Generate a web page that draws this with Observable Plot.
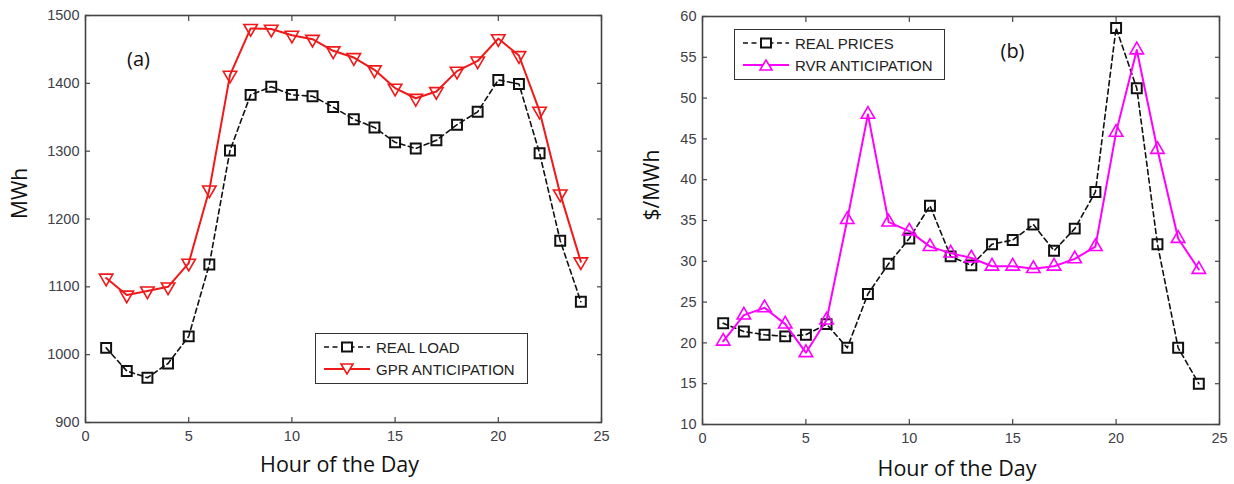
<!DOCTYPE html>
<html>
<head>
<meta charset="utf-8">
<script src="https://cdn.jsdelivr.net/npm/d3@7"></script>
<script src="https://cdn.jsdelivr.net/npm/@observablehq/plot@0.6"></script>
<style>
  html, body { margin: 0; padding: 0; background: #fff; }
  #wrap { position: relative; width: 1234px; height: 484px; overflow: hidden; }
  #wrap svg.plot { position: absolute; top: 0; }
  .legend { position: absolute; background: #fff; border: 1.5px solid #333; box-sizing: border-box;
            font-family: "Liberation Sans", Arial, sans-serif; font-size: 15px; color: #222; }
  .legend .row { position: absolute; left: 0; height: 20px; display: flex; align-items: center; white-space: nowrap; }
  .legend .row svg { display: block; margin-left: 8px; margin-right: 6px; }
</style>
</head>
<body>
<div id="wrap"></div>
<script>
// ---- data ----
const hours = [1,2,3,4,5,6,7,8,9,10,11,12,13,14,15,16,17,18,19,20,21,22,23,24];
const realLoad = [1010,976,966,987,1027,1133,1301,1383,1395,1383,1381,1365,1347,1335,1313,1304,1316,1339,1358,1405,1399,1297,1168,1078];
const gprAnticipation = [1113,1088,1094,1100,1135,1243,1412,1481,1480,1471,1465,1448,1438,1420,1393,1378,1388,1418,1433,1466,1441,1359,1237,1137];
const realPrices = [22.4,21.4,21.0,20.8,21.0,22.3,19.4,26.0,29.7,32.8,36.8,30.6,29.5,32.1,32.6,34.5,31.3,34.0,38.5,58.6,51.2,32.1,19.4,15.0];
const rvrAnticipation = [20.2,23.4,24.3,22.3,18.8,22.8,35.1,48.0,34.8,33.7,31.8,31.0,30.4,29.4,29.4,29.1,29.4,30.3,31.8,45.8,55.9,43.7,32.8,29.0];
const xTicks = [0,5,10,15,20,25];
const yTicksA = [900,1000,1100,1200,1300,1400,1500];
const yTicksB = [10,15,20,25,30,35,40,45,50,55,60];
const xLabel = "Hour of the Day";
const yLabelA = "MWh";
const yLabelB = "$/MWh";

const loadRows = hours.map((h, i) => ({h, real: realLoad[i], gpr: gprAnticipation[i]}));
const priceRows = hours.map((h, i) => ({h, real: realPrices[i], rvr: rvrAnticipation[i]}));

const tickFont = {fontSize: 14.5, fontFamily: "Liberation Sans, Arial, sans-serif", fill: "#404048"};
const frameColor = "#444";
const plain = d => String(d);

function axes(yTicks) {
  return [
    Plot.axisX({ticks: xTicks, tickSize: -5, tickPadding: 13, tickFormat: plain, label: null, stroke: frameColor, strokeWidth: 1.2, ...tickFont}),
    Plot.axisX({anchor: "top", ticks: xTicks, tickSize: -5, tickFormat: () => "", label: null, stroke: frameColor, strokeWidth: 1.2}),
    Plot.axisY({ticks: yTicks, tickSize: -5, tickPadding: 11, tickFormat: plain, label: null, stroke: frameColor, strokeWidth: 1.2, ...tickFont}),
    Plot.axisY({anchor: "right", ticks: yTicks, tickSize: -5, tickFormat: () => "", label: null, stroke: frameColor, strokeWidth: 1.2}),
    Plot.frame({stroke: frameColor, strokeWidth: 1.6})
  ];
}

const labelFont = "Open Sans, sans-serif";

const plotA = Plot.plot({
  width: 617, height: 484,
  marginLeft: 85, marginRight: 16, marginTop: 15, marginBottom: 62,
  x: {domain: [0, 25]},
  y: {domain: [900, 1500]},
  style: {background: "transparent", overflow: "visible"},
  marks: [
    ...axes(yTicksA),
    Plot.line(loadRows, {x: "h", y: "real", stroke: "#111", strokeWidth: 1.6, strokeDasharray: "5,3.5"}),
    Plot.dot(loadRows, {x: "h", y: "real", symbol: "square", r: 5.6, stroke: "#111", strokeWidth: 2, fill: "none"}),
    Plot.line(loadRows, {x: "h", y: "gpr", stroke: "#f01818", strokeWidth: 2}),
    Plot.dot(loadRows, {x: "h", y: "gpr", symbol: "triangle", rotate: 180, r: 5, stroke: "#f01818", strokeWidth: 1.6, fill: "none"}),
    Plot.text([xLabel], {frameAnchor: "bottom", dx: -4, dy: 49, fontSize: 21.5, fontFamily: labelFont, fill: "#111"}),
    Plot.text([yLabelA], {frameAnchor: "left", dx: -65, rotate: -90, fontSize: 21, fontFamily: labelFont, fill: "#111"}),
    Plot.text(["(a)"], {frameAnchor: "top-left", textAnchor: "middle", lineAnchor: "middle", dx: 53, dy: 44, fontSize: 20, fontFamily: labelFont, fill: "#111"})
  ]
});

const plotB = Plot.plot({
  width: 617, height: 484,
  marginLeft: 85, marginRight: 15, marginTop: 16, marginBottom: 60,
  x: {domain: [0, 25]},
  y: {domain: [10, 60]},
  style: {background: "transparent", overflow: "visible"},
  marks: [
    ...axes(yTicksB),
    Plot.line(priceRows, {x: "h", y: "real", stroke: "#111", strokeWidth: 1.6, strokeDasharray: "5,3.5"}),
    Plot.dot(priceRows, {x: "h", y: "real", symbol: "square", r: 5.6, stroke: "#111", strokeWidth: 2, fill: "none"}),
    Plot.line(priceRows, {x: "h", y: "rvr", stroke: "#ff00ff", strokeWidth: 2}),
    Plot.dot(priceRows, {x: "h", y: "rvr", symbol: "triangle", r: 5, stroke: "#ff00ff", strokeWidth: 1.6, fill: "none"}),
    Plot.text([xLabel], {frameAnchor: "bottom", dx: -4, dy: 51, fontSize: 21.5, fontFamily: labelFont, fill: "#111"}),
    Plot.text([yLabelB], {frameAnchor: "left", dx: -50, rotate: -90, fontSize: 21, fontFamily: labelFont, fill: "#111"}),
    Plot.text(["(b)"], {frameAnchor: "top-left", textAnchor: "middle", lineAnchor: "middle", dx: 310, dy: 35, fontSize: 20, fontFamily: labelFont, fill: "#111"})
  ]
});

const wrap = document.getElementById("wrap");
plotA.classList.add("plot"); plotA.style.left = "0px";
plotB.classList.add("plot"); plotB.style.left = "617px";
wrap.appendChild(plotA);
wrap.appendChild(plotB);

// ---- legends ----
function swatch(color, dash, marker) {
  const ns = "http://www.w3.org/2000/svg";
  const s = document.createElementNS(ns, "svg");
  s.setAttribute("width", 46); s.setAttribute("height", 16);
  const l = document.createElementNS(ns, "line");
  l.setAttribute("x1", 0); l.setAttribute("x2", 46); l.setAttribute("y1", 8); l.setAttribute("y2", 8);
  l.setAttribute("stroke", color); l.setAttribute("stroke-width", dash ? 1.6 : 2);
  if (dash) l.setAttribute("stroke-dasharray", "5,3.5");
  s.appendChild(l);
  const p = document.createElementNS(ns, "path");
  p.setAttribute("fill", "#fff"); p.setAttribute("stroke", color); p.setAttribute("stroke-width", marker === "square" ? 2 : 1.6);
  if (marker === "square") p.setAttribute("d", "M18,3.5H28V12.5H18Z");
  else if (marker === "down") p.setAttribute("d", "M17,3H29L23,13Z");
  else p.setAttribute("d", "M17,13H29L23,3Z");
  s.appendChild(p);
  return s;
}
function legend(left, top, w, h, items) {
  const d = document.createElement("div");
  d.className = "legend";
  Object.assign(d.style, {left: left + "px", top: top + "px", width: w + "px", height: h + "px"});
  items.forEach((it) => {
    const r = document.createElement("div");
    r.className = "row";
    r.style.top = (it.top) + "px";
    r.appendChild(swatch(it.color, it.dash, it.marker));
    const t = document.createElement("span");
    t.textContent = it.label;
    r.appendChild(t);
    d.appendChild(r);
  });
  wrap.appendChild(d);
}
legend(315, 333, 213, 51, [
  {label: "REAL LOAD", color: "#111", dash: true, marker: "square", top: 3},
  {label: "GPR ANTICIPATION", color: "#f01818", dash: false, marker: "down", top: 25}
]);
legend(734, 29, 211, 51, [
  {label: "REAL PRICES", color: "#111", dash: true, marker: "square", top: 3},
  {label: "RVR ANTICIPATION", color: "#ff00ff", dash: false, marker: "up", top: 25}
]);
</script>
</body>
</html>
